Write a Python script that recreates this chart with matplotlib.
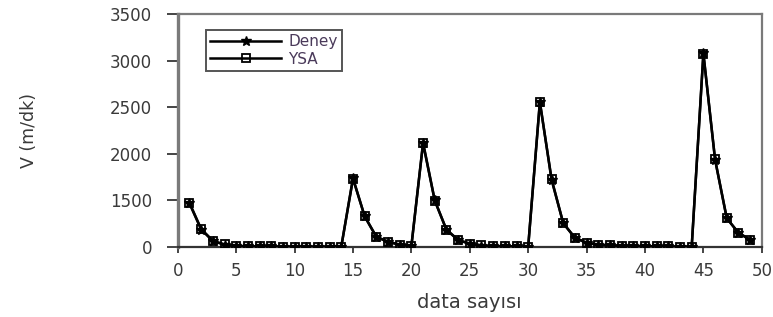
import numpy as np
import matplotlib
matplotlib.use("Agg")
import matplotlib.pyplot as plt

# data
x_idx = np.arange(1, 50)
deney = [1400, 560, 190, 70, 30, 20, 18, 15, 12, 10, 10, 10, 10, 12,
         1740, 980, 320, 160, 70, 30,
         2120, 1500, 550, 220, 100, 45, 30, 20, 15, 10,
         2560, 1720, 770, 290, 130, 70, 50, 40, 30, 25, 20, 15, 12, 10,
         3080, 1935, 930, 450, 225]
ysa = [1420, 580, 200, 80, 35, 22, 20, 16, 13, 11, 10, 11, 12, 14,
       1730, 990, 330, 170, 75, 35,
       2110, 1490, 560, 230, 105, 50, 32, 22, 16, 12,
       2550, 1730, 760, 300, 135, 75, 55, 42, 32, 27, 22, 17, 14, 12,
       3070, 1940, 920, 460, 235]
y_ticks = [0, 1500, 2000, 2500, 3000, 3500]
x_ticks = list(range(0, 51, 5))

# y axis in the picture: 0 -> 1500 takes one step, then 500 per step
def fwd(v):
    v = np.asarray(v, dtype=float)
    return np.where(v < 1500, v / 1500.0, 1 + (v - 1500) / 500.0)

def inv(u):
    u = np.asarray(u, dtype=float)
    return np.where(u < 1, u * 1500.0, 1500 + (u - 1) * 500.0)

plt.rcParams['font.family'] = ['DejaVu Sans']
txt_c = '#3a3a3a'
spine_c = '#7a7a7a'

fig = plt.figure(figsize=(7.73, 3.17), dpi=100)
ax = fig.add_axes([0.230, 0.221, 0.7555, 0.735])

ax.plot(x_idx, ysa, color='black', lw=1.8, marker='s', ms=6,
        mfc='none', mec='black', mew=1.3, label='YSA', zorder=3)
ax.plot(x_idx, deney, color='black', lw=1.8, marker='*', ms=7,
        mec='black', mfc='black', label='Deney', zorder=4)

ax.set_yscale('function', functions=(fwd, inv))
ax.set_ylim(0, 3500)
ax.set_xlim(0, 50)
ax.set_yticks(y_ticks)
ax.set_yticklabels([str(t) for t in y_ticks])
ax.set_xticks(x_ticks)
ax.minorticks_off()

for s in ax.spines.values():
    s.set_color(spine_c)
    s.set_linewidth(1.6)
ax.spines['left'].set_linewidth(2.4)
ax.spines['bottom'].set_color('#333333')

ax.tick_params(axis='both', direction='out', width=1.4,
               color='#444444', labelsize=12, labelcolor=txt_c)
ax.tick_params(axis='y', length=8, pad=10.5)
ax.tick_params(axis='x', length=4, pad=7)

ax.set_xlabel('data sayısı', fontsize=14, color=txt_c, labelpad=9)
ax.set_ylabel('V (m/dk)', fontsize=12.5, color=txt_c, labelpad=52)

h, l = ax.get_legend_handles_labels()
leg = ax.legend(h[::-1], l[::-1], loc='upper left',
                bbox_to_anchor=(0.035, 0.965), fontsize=11,
                handlelength=4.6, handletextpad=0.5, borderpad=0.3,
                labelspacing=0.15, fancybox=False, framealpha=1)
leg.get_frame().set_edgecolor('#555555')
leg.get_frame().set_linewidth(1.4)
for t in leg.get_texts():
    t.set_color('#4a3a5a')

fig.savefig('out.png', dpi=100)
